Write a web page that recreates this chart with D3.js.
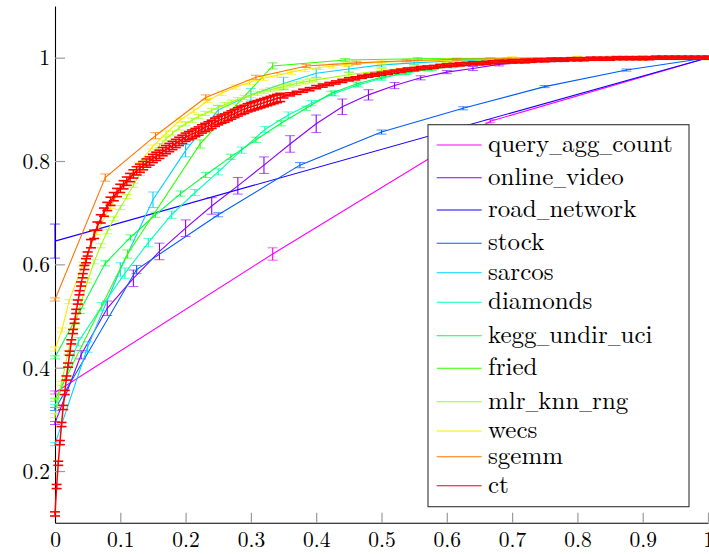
<!DOCTYPE html>
<meta charset="utf-8">
<style>
body { margin: 0; background: #fff; }
svg { display: block; }
.axis path.domain { stroke: #000; stroke-width: 1.1; }
.axis .tick line { stroke: #9a9a9a; stroke-width: 1.2; }
</style>
<svg id="chart"></svg>
<script src="https://d3js.org/d3.v7.min.js"></script>
<script>

// ---- data ----
const seriesNames = ["query_agg_count", "online_video", "road_network", "stock", "sarcos",
  "diamonds", "kegg_undir_uci", "fried", "mlr_knn_rng", "wecs", "sgemm", "ct"];

const xTicks = [0, 0.1, 0.2, 0.3, 0.4, 0.5, 0.6, 0.7, 0.8, 0.9, 1];
const yTicks = [0.2, 0.4, 0.6, 0.8, 1];

// grid helper: the x positions the runs were sampled at
const grid = (n) => d3.range(0, n + 1).map(k => k / n);

const queryX = [0, 1 / 3, 2 / 3, 1];
const queryY = [0.352, 0.62, 0.877, 1];
const queryErr = [0.003, 0.012, 0.003, 0];

const videoX = grid(25);
const videoY = [0.293, 0.425, 0.515, 0.573, 0.625, 0.67, 0.713, 0.752, 0.792, 0.833, 0.872, 0.905, 0.928,
  0.946, 0.961, 0.972, 0.979, 0.987, 0.991, 0.994, 0.996, 0.997, 0.998, 0.999, 1, 1];
const videoErr = [0.003, 0.008, 0.014, 0.016, 0.016, 0.016, 0.016, 0.016, 0.016, 0.016, 0.017, 0.015, 0.01,
  0.006, 0.004, 0.003, 0.004, 0.003, 0.002, 0.002, 0.002, 0.001, 0.001, 0.001, 0, 0];

const roadX = [0, 1];
const roadY = [0.645, 1];
const roadErr = [0.033, 0];

const stockX = grid(8);
const stockY = [0.32, 0.59, 0.696, 0.792, 0.856, 0.902, 0.944, 0.976, 1];
const stockErr = [0.003, 0.008, 0.004, 0.005, 0.004, 0.003, 0.002, 0.002, 0];

const sarcosX = grid(20);
const sarcosY = [0.252, 0.44, 0.59, 0.725, 0.82, 0.899, 0.928, 0.95, 0.97, 0.978, 0.986, 0.99, 0.993,
  0.995, 0.997, 0.998, 0.999, 0.999, 1, 1, 1];
const sarcosErr = [0.003, 0.01, 0.013, 0.015, 0.012, 0.008, 0.012, 0.012, 0.008, 0.006, 0.004, 0.003, 0.003,
  0.002, 0.002, 0.001, 0.001, 0.001, 0, 0, 0];

const diamondsX = grid(28);
const diamondsY = [0.326, 0.45, 0.518, 0.583, 0.642, 0.696, 0.739, 0.779, 0.821, 0.861, 0.889, 0.912, 0.931,
  0.947, 0.96, 0.97, 0.977, 0.983, 0.988, 0.991, 0.994, 0.996, 0.997, 0.998, 0.999, 0.9995, 1, 1, 1];
const diamondsErr = [0.003, 0.008, 0.008, 0.01, 0.008, 0.007, 0.006, 0.006, 0.006, 0.006, 0.006, 0.005, 0.005,
  0.004, 0.004, 0.003, 0.003, 0.003, 0.002, 0.002, 0.002, 0.001, 0.001, 0.001, 0.001, 0.001, 0, 0, 0];

const keggX = grid(26);
const keggY = [0.42, 0.51, 0.602, 0.652, 0.696, 0.737, 0.773, 0.808, 0.841, 0.873, 0.902, 0.931, 0.949,
  0.962, 0.971, 0.978, 0.984, 0.988, 0.991, 0.994, 0.996, 0.997, 0.998, 0.999, 1, 1, 1];
const keggErr = [0.003, 0.005, 0.005, 0.005, 0.005, 0.005, 0.005, 0.005, 0.005, 0.005, 0.004, 0.004, 0.004,
  0.003, 0.003, 0.003, 0.002, 0.002, 0.002, 0.001, 0.001, 0.001, 0.001, 0.001, 0, 0, 0];

const friedX = grid(9);
const friedY = [0.338, 0.62, 0.833, 0.984, 0.9955, 0.998, 0.999, 1, 1, 1];
const friedErr = [0.003, 0.008, 0.008, 0.006, 0.003, 0.002, 0.001, 0, 0, 0];

const mlrX = [0, 0.01, 0.02, 0.03, 0.04, 0.05, 0.06, 0.07, 0.08, 0.09, 0.1, 0.11, 0.12, 0.13, 0.14, 0.15,
  0.16, 0.17, 0.18, 0.19, 0.2, 0.21, 0.22, 0.23, 0.24, 0.25, 0.26, 0.27, 0.28, 0.29, 0.3, 0.31, 0.32,
  0.33, 0.34, 0.35, 0.36, 0.37, 0.38, 0.39, 0.4, 0.45, 0.5, 0.55, 0.6, 0.65, 0.7, 0.75, 0.8, 0.85, 0.9, 0.95, 1];
const mlrY = [0.307, 0.37, 0.43, 0.48, 0.527, 0.568, 0.605, 0.636, 0.663, 0.688, 0.71, 0.731, 0.753, 0.776,
  0.797, 0.815, 0.83, 0.843, 0.854, 0.864, 0.872, 0.879, 0.886, 0.892, 0.898, 0.904, 0.909, 0.914, 0.919,
  0.923, 0.927, 0.931, 0.935, 0.938, 0.941, 0.944, 0.947, 0.95, 0.953, 0.955, 0.957,
  0.967, 0.975, 0.982, 0.987, 0.991, 0.994, 0.996, 0.998, 0.999, 0.999, 1, 1];
const mlrErr = 0.004;

const wecsX = [0, 0.0106, 0.0213, 0.0426, 0.0638, 0.0851, 0.1064, 0.1277, 0.1489, 0.1702, 0.1915, 0.2128,
  0.234, 0.2553, 0.2766, 0.2979, 0.3191, 0.3404, 0.3617, 0.383, 0.4043, 0.4255, 0.4468, 0.5, 0.6, 0.7, 0.8, 0.9, 1];
const wecsY = [0.436, 0.473, 0.528, 0.6, 0.662, 0.712, 0.756, 0.794, 0.827, 0.854, 0.879, 0.897, 0.917,
  0.931, 0.943, 0.952, 0.96, 0.966, 0.972, 0.977, 0.981, 0.984, 0.987, 0.991, 0.995, 0.998, 0.999, 1, 1];
const wecsErr = 0.004;

const sgemmX = grid(13);
const sgemmY = [0.532, 0.768, 0.849, 0.923, 0.962, 0.984, 0.99, 0.994, 0.997, 0.998, 0.999, 1, 1, 1];
const sgemmErr = [0.003, 0.007, 0.006, 0.005, 0.004, 0.003, 0.003, 0.002, 0.002, 0.001, 0.001, 0, 0, 0];

// ct is sampled densely: fine steps near 0, coarser further out
const ctX = d3.range(0, 21).map(k => k * 0.0025)
  .concat(d3.range(11, 71).map(k => k * 0.005))
  .concat(d3.range(36, 101).map(k => k / 100));
const ctY = [
  // 0 .. 0.05
  0.117, 0.170, 0.215, 0.255, 0.290, 0.323, 0.352, 0.380, 0.405, 0.428, 0.450, 0.470, 0.490, 0.509,
  0.527, 0.545, 0.562, 0.578, 0.594, 0.607, 0.620,
  // 0.055 .. 0.35
  0.640, 0.658, 0.674, 0.688, 0.701, 0.712, 0.722, 0.731, 0.739, 0.747, 0.754, 0.761, 0.768, 0.775,
  0.781, 0.786, 0.791, 0.796, 0.800, 0.805, 0.809, 0.813, 0.818, 0.822, 0.826, 0.830, 0.834, 0.838,
  0.842, 0.846, 0.849, 0.852, 0.855, 0.858, 0.862, 0.865, 0.868, 0.871, 0.875, 0.878, 0.881, 0.883,
  0.886, 0.889, 0.892, 0.895, 0.898, 0.900, 0.903, 0.905, 0.907, 0.909, 0.911, 0.913, 0.915, 0.917,
  0.919, 0.921, 0.923, 0.925,
  // 0.36 .. 1
  0.929, 0.932, 0.936, 0.939, 0.943, 0.946, 0.949, 0.952, 0.955, 0.958, 0.960, 0.963, 0.965, 0.967,
  0.969, 0.971, 0.973, 0.975, 0.977, 0.978, 0.980, 0.981, 0.982, 0.984, 0.985, 0.986, 0.987, 0.988,
  0.989, 0.989, 0.990, 0.991, 0.992, 0.992, 0.993, 0.993, 0.994, 0.994, 0.995, 0.995, 0.996, 0.996,
  0.996, 0.997, 0.997, 0.997, 0.998, 0.998, 0.998, 0.998, 0.999, 0.999, 0.999, 0.999, 0.999, 0.999,
  1, 1, 1, 1, 1, 1, 1, 1, 1];
// error half-widths of ct per stretch: near 0, 0.055..0.35, beyond
const ctErrNear = 0.004, ctErrMid = 0.008, ctErrFar = 0.003;
const ctErr = ctX.map(v => v <= 0.05 ? ctErrNear : v <= 0.35 ? ctErrMid : ctErrFar);

// ---- build table ----
const raw = [
  [queryX, queryY, queryErr], [videoX, videoY, videoErr], [roadX, roadY, roadErr],
  [stockX, stockY, stockErr], [sarcosX, sarcosY, sarcosErr], [diamondsX, diamondsY, diamondsErr],
  [keggX, keggY, keggErr], [friedX, friedY, friedErr], [mlrX, mlrY, mlrErr],
  [wecsX, wecsY, wecsErr], [sgemmX, sgemmY, sgemmErr], [ctX, ctY, ctErr]
];
// hue ramp magenta -> red, like the pgfplots cycle list
const colors = seriesNames.map((d, i) => d3.hsl(300 - i * 300 / 11, 1, 0.5).formatHex());

const series = seriesNames.map((name, i) => {
  const [xs, ys, es] = raw[i];
  return {
    name: name,
    color: colors[i],
    last: i === seriesNames.length - 1,
    points: xs.map((x, j) => ({ x: x, y: ys[j], e: Array.isArray(es) ? es[j] : es }))
  };
});

// ---- layout ----
const W = 709, H = 554;
const FONT = "'Latin Modern Roman', 'Liberation Serif', serif";
const svg = d3.select("#chart").attr("width", W).attr("height", H);

const x = d3.scaleLinear().domain([0, 1]).range([55, 708]);
const y = d3.scaleLinear().domain([0.1, 1.1]).range([522.7, 6]);

const fmt = d => d3.format("")(+d.toFixed(1));

const gx = svg.append("g")
  .attr("class", "axis axis--x")
  .attr("transform", "translate(0,522.7)")
  .call(d3.axisBottom(x).tickValues(xTicks).tickFormat(fmt).tickSize(-10).tickSizeOuter(0).tickPadding(9));

const gy = svg.append("g")
  .attr("class", "axis axis--y")
  .attr("transform", "translate(55,0)")
  .call(d3.axisLeft(y).tickValues(yTicks).tickFormat(fmt).tickSize(-10).tickSizeOuter(0).tickPadding(5));

svg.selectAll(".axis text")
  .style("font-family", FONT)
  .style("font-size", "21.5px")
  .style("fill", "#000");
gy.selectAll("text").attr("dy", "0.34em");

const line = d3.line().x(d => x(d.x)).y(d => y(d.y));

const gSeries = svg.append("g").selectAll("g")
  .data(series)
  .join("g")
  .attr("stroke", d => d.color)
  .attr("fill", "none");

gSeries.append("path")
  .attr("d", d => line(d.points))
  .attr("stroke-width", d => d.last ? 1.5 : 1.1);

// error bars: stem + two caps
const bars = gSeries.selectAll("g.err")
  .data(d => d.points.map(p => Object.assign({ last: d.last }, p)))
  .join("g")
  .attr("class", "err");

bars.append("line")
  .attr("x1", d => x(d.x)).attr("x2", d => x(d.x))
  .attr("y1", d => y(d.y - d.e)).attr("y2", d => y(d.y + d.e))
  .attr("stroke-width", d => d.last ? 1.5 : 1.1);

bars.selectAll("line.cap")
  .data(d => [{ x: d.x, y: d.y - d.e, last: d.last }, { x: d.x, y: d.y + d.e, last: d.last }])
  .join("line")
  .attr("class", "cap")
  .attr("x1", d => x(d.x) - 5).attr("x2", d => x(d.x) + 5)
  .attr("y1", d => y(d.y)).attr("y2", d => y(d.y))
  .attr("stroke-width", d => d.last ? 1.6 : 1)
  .attr("stroke-opacity", d => d.last ? 1 : 0.65);

// ---- legend ----
const legendRowY = [20.3, 53, 85.3, 118.6, 148, 177.6, 211, 243.6, 277, 306.3, 332, 361];
const legend = svg.append("g")
  .attr("class", "legend")
  .attr("transform", "translate(428,124.7)");

legend.append("rect")
  .attr("width", 261).attr("height", 382)
  .attr("fill", "#fff").attr("stroke", "#333").attr("stroke-width", 1.1);

const rows = legend.selectAll("g.row")
  .data(series)
  .join("g")
  .attr("class", "row")
  .attr("transform", (d, i) => "translate(0," + legendRowY[i] + ")");

rows.append("line")
  .attr("x1", 8.7).attr("x2", 53.7)
  .attr("stroke", d => d.color).attr("stroke-width", 1.1);

// TeX-style \_ is narrower than the font's underscore glyph, so set it smaller
const label = rows.append("text")
  .attr("x", 60).attr("y", 6.8)
  .style("font-family", FONT)
  .style("font-size", "25px")
  .style("fill", "#000");

label.selectAll("tspan")
  .data(d => d.name.split(/(_)/))
  .join("tspan")
  .style("font-size", s => s === "_" ? "17px" : null)
  .text(s => s);

</script>
